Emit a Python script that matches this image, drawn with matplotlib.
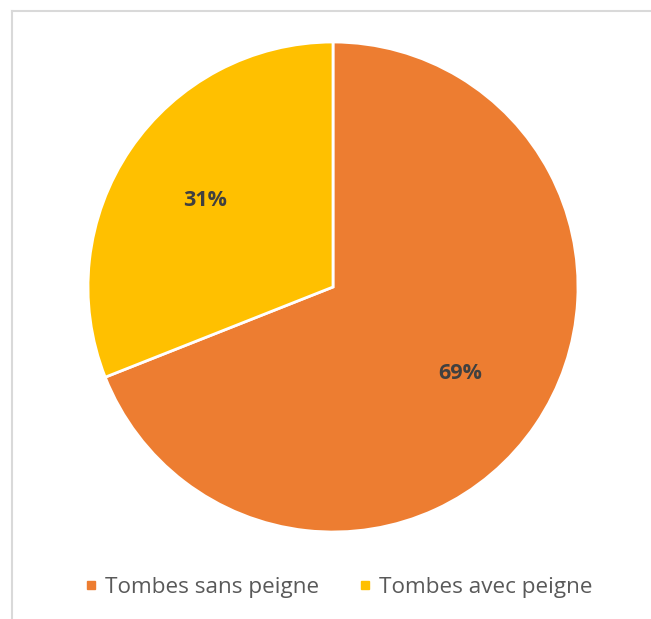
import matplotlib
matplotlib.use("Agg")
import matplotlib.pyplot as plt
from matplotlib.lines import Line2D

labels = ["Tombes sans peigne", "Tombes avec peigne"]
values = [69, 31]
colors = ["#ED7D31", "#FFC000"]

W, H = 651, 619
fig = plt.figure(figsize=(W / 100, H / 100), dpi=100)
plt.rcParams['font.family'] = ['Open Sans', 'DejaVu Sans']

# frame: only left and top edges visible
fig.add_artist(Line2D([11.5 / W, 11.5 / W], [0, 1 - 10.5 / H], transform=fig.transFigure,
                      color="#D9D9D9", lw=1.5))
fig.add_artist(Line2D([11.5 / W, 1], [1 - 10.5 / H, 1 - 10.5 / H], transform=fig.transFigure,
                      color="#D9D9D9", lw=1.5))

cx, cy, r = 333, 287, 245
ax = fig.add_axes([(cx - r) / W, (H - cy - r) / H, 2 * r / W, 2 * r / H])
wedges, texts, autotexts = ax.pie(values, colors=colors, startangle=90, counterclock=False,
                                  autopct=lambda p: f"{p:.0f}%", pctdistance=0.63,
                                  wedgeprops=dict(edgecolor="white", linewidth=2),
                                  textprops=dict(color="#404040", fontsize=15.5, fontweight="bold"))
ax.set_xlim(-1, 1)
ax.set_ylim(-1, 1)
ax.set_aspect("equal")
ax.axis("off")

handles = [Line2D([], [], marker="s", linestyle="none", markersize=6.2, color=c) for c in colors]
leg = fig.legend(handles, labels, loc="center", bbox_to_anchor=(339 / W, 1 - 587 / H), ncol=2,
                 frameon=False, fontsize=16.2, handlelength=0.5, handletextpad=0.35,
                 columnspacing=1.8, labelcolor="#595959")

fig.savefig("out.png", dpi=100)
